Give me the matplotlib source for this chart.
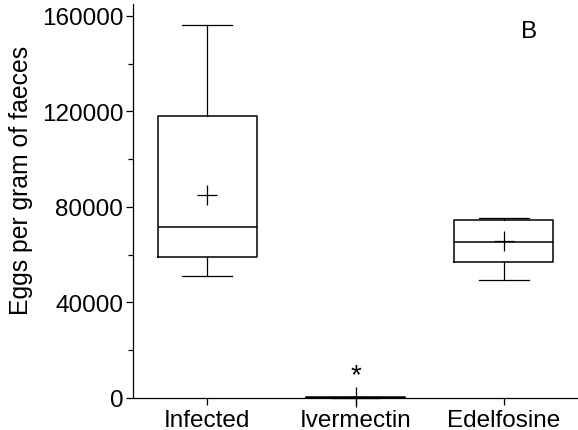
import matplotlib
matplotlib.use("Agg")
import matplotlib.pyplot as plt
from matplotlib.ticker import MultipleLocator

plt.rcParams['font.family'] = ['Liberation Sans', 'DejaVu Sans']

categories = ["Infected", "Ivermectin", "Edelfosine"]
whisker_low = [51000, 0, 49500]
q1 = [59000, 0, 57100]
median = [71600, 0, 65200]
q3 = [118000, 600, 74500]
whisker_high = [156000, 600, 75400]
means = [85000, 400, 65600]

stats = []
for i, c in enumerate(categories):
    stats.append(dict(label=c, whislo=whisker_low[i], q1=q1[i], med=median[i],
                      q3=q3[i], whishi=whisker_high[i], mean=means[i], fliers=[]))

fig = plt.figure(figsize=(5.78, 4.31), dpi=100)
ax = fig.add_axes([133/578, 1-399/431, 1-133/578, (399-5)/431])

lp = dict(color='black', linewidth=0.9)
res = ax.bxp(stats, positions=[1, 2, 3], widths=0.667, showmeans=True, showfliers=False,
             boxprops=dict(color='black', linewidth=1.1), whiskerprops=lp, capprops=lp,
             medianprops=dict(color='black', linewidth=1.1),
             meanprops=dict(marker='+', markersize=14, markeredgecolor='black',
                            markeredgewidth=0.9, markerfacecolor='none'),
             manage_ticks=False)
for key in res:
    for art in res[key]:
        art.set_clip_on(False)

ax.set_xlim(0.5, 3.5)
ax.set_ylim(0, 165000)
ax.set_xticks([1, 2, 3])
ax.set_xticklabels(categories)
ax.yaxis.set_minor_locator(MultipleLocator(20000))
ax.set_yticks([0, 40000, 80000, 120000, 160000])
ax.set_yticklabels(["0", "40000", "80000", "120000", "160000"])

for s in ['top', 'right']:
    ax.spines[s].set_visible(False)
for s in ['left', 'bottom']:
    ax.spines[s].set_linewidth(0.9)

ax.tick_params(axis='both', which='major', length=5, width=0.9, labelsize=17.5, pad=2)
ax.tick_params(axis='x', which='major', pad=3)
ax.tick_params(axis='y', which='minor', length=3.5, width=0.9)

ax.set_ylabel("Eggs per gram of faeces", fontsize=17.8)
ax.yaxis.set_label_coords(-0.225, (399-180)/394)

ax.text(3.17, 153700, "B", fontsize=17.5, ha='center', va='center')
ax.text(2, 9600, "*", fontsize=20, ha='center', va='center')

fig.savefig("out.png", dpi=100)
